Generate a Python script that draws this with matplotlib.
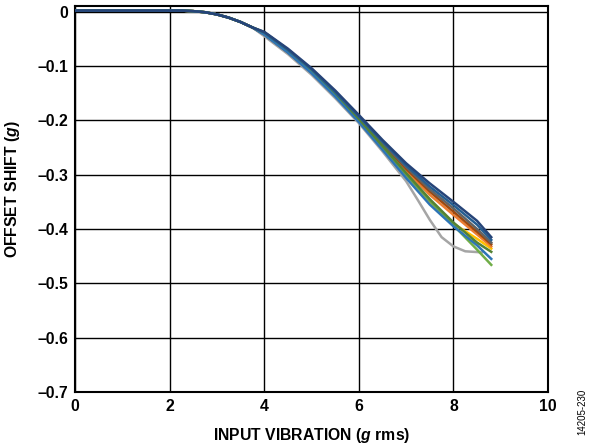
import numpy as np
import matplotlib
matplotlib.use('Agg')
import matplotlib.pyplot as plt

plt.rcParams['font.family'] = ['Liberation Sans', 'DejaVu Sans']
plt.rcParams['mathtext.fontset'] = 'custom'
plt.rcParams['mathtext.it'] = 'Liberation Sans:italic:bold'
plt.rcParams['mathtext.rm'] = 'Liberation Sans:bold'

# ── Data ──────────────────────────────────────────────────────────────────────
# flat start, shared by all devices
x_head = [0, 0.5, 1, 1.5, 2, 2.25, 2.5, 2.75, 3, 3.25, 3.5, 3.75]
y_head = [0.002, 0.002, 0.002, 0.002, 0.002, 0.002, 0.001, -0.001,
          -0.005, -0.011, -0.019, -0.029]

# per-device roll-off from x = 4
x_tail = [4, 4.5, 5, 5.5, 6, 6.5, 7, 7.5, 8, 8.5, 8.8]
y_dark_blue  = [-0.037, -0.068, -0.104, -0.145, -0.190, -0.236, -0.279, -0.316, -0.350, -0.385, -0.415]
y_blue_2     = [-0.038, -0.070, -0.106, -0.148, -0.193, -0.239, -0.283, -0.322, -0.356, -0.392, -0.420]
y_dark_gray  = [-0.042, -0.075, -0.112, -0.154, -0.198, -0.242, -0.286, -0.327, -0.362, -0.400, -0.425]
y_brown      = [-0.041, -0.073, -0.110, -0.152, -0.197, -0.243, -0.289, -0.331, -0.368, -0.405, -0.428]
y_orange     = [-0.040, -0.072, -0.109, -0.151, -0.197, -0.245, -0.293, -0.337, -0.374, -0.410, -0.432]
y_gold       = [-0.038, -0.070, -0.106, -0.149, -0.196, -0.248, -0.300, -0.350, -0.390, -0.418, -0.436]
y_dark_green = [-0.038, -0.070, -0.106, -0.149, -0.197, -0.247, -0.297, -0.345, -0.388, -0.425, -0.442]
y_green      = [-0.039, -0.071, -0.108, -0.151, -0.198, -0.249, -0.300, -0.348, -0.393, -0.438, -0.466]
y_blue       = [-0.042, -0.075, -0.113, -0.156, -0.203, -0.254, -0.306, -0.355, -0.395, -0.430, -0.455]

x_light_gray = [4, 4.5, 5, 5.5, 6, 6.5, 7, 7.25, 7.5, 7.75, 8, 8.25, 8.6]
y_light_gray = [-0.045, -0.078, -0.116, -0.159, -0.205, -0.257, -0.312, -0.347,
                -0.383, -0.415, -0.432, -0.441, -0.443]

series = [
    (x_light_gray, y_light_gray, '#A5A5A5'),
    (x_tail, y_gold,       '#FFC000'),
    (x_tail, y_orange,     '#ED7D31'),
    (x_tail, y_brown,      '#9E480E'),
    (x_tail, y_dark_gray,  '#636363'),
    (x_tail, y_green,      '#70AD47'),
    (x_tail, y_blue,       '#2E75B6'),
    (x_tail, y_dark_green, '#548235'),
    (x_tail, y_blue_2,     '#255E91'),
    (x_tail, y_dark_blue,  '#264478'),
]

# ── Plot ──────────────────────────────────────────────────────────────────────
fig = plt.figure(figsize=(5.94, 4.44), dpi=100)
ax = fig.add_axes([0.1263, 0.1171, 0.7963, 0.8694])

for xs, ys, col in series:
    ax.plot(x_head + xs, y_head + ys, color=col, lw=1.8, zorder=3,
            solid_joinstyle='round')

ax.set_xlim(0, 10)
ax.set_ylim(-0.7, 0.0105)
ax.set_xticks(np.arange(0, 11, 2))
ax.set_yticks(np.arange(0, -0.71, -0.1))
ax.set_xticklabels([str(v) for v in range(0, 11, 2)])
ax.set_yticklabels(['0'] + [f'\u2013{v/10:.1f}' for v in range(1, 8)])
ax.tick_params(length=0, labelsize=11.3, pad=5)
for lab in ax.get_xticklabels() + ax.get_yticklabels():
    lab.set_fontweight('bold')

ax.grid(True, color='black', lw=1.0)
ax.set_axisbelow(True)
for sp in ax.spines.values():
    sp.set_linewidth(1.5)

ax.set_xlabel('INPUT VIBRATION ($\\it{g}$ rms)', fontsize=11.3,
              fontweight='bold', labelpad=9)
ax.set_ylabel('OFFSET SHIFT ($\\it{g}$)', fontsize=11.3,
              fontweight='bold', labelpad=1)
ax.yaxis.set_label_coords(-0.112, 0.525)

fig.text(0.980, 0.072, '14205-230', rotation=90, fontsize=7,
         ha='center', va='center')

fig.savefig('out.png', dpi=100)
